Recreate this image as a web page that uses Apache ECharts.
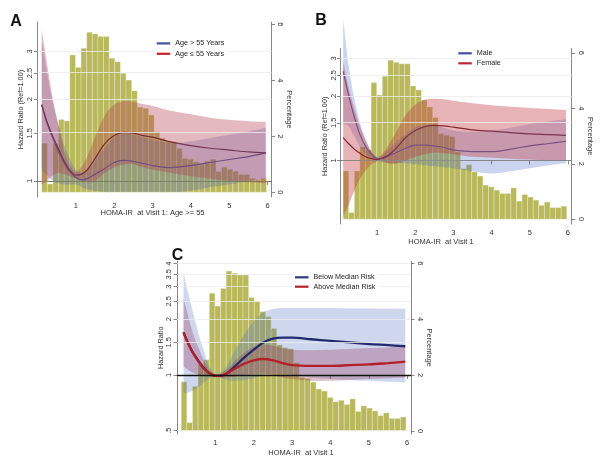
<!DOCTYPE html>
<html><head><meta charset="utf-8">
<script src="https://cdn.jsdelivr.net/npm/echarts@6/dist/echarts.min.js"></script>
<style>html,body{margin:0;padding:0;background:#fff}#c{width:600px;height:459px}</style>
</head><body><div id="c"></div>
<script>
// ---------------- data ----------------
const binStart = 0.11;
const binWidth = 0.1465;
const pctA = [1.75,0.3,1.75,2.6,2.55,4.9,4.46,5.14,5.71,5.65,5.56,5.56,4.79,4.66,4.25,4.01,3.62,3.04,3.0,2.76,2.16,1.93,1.83,1.8,1.57,1.21,1.18,1.09,1.0,1.12,1.18,0.74,0.9,0.82,0.75,0.64,0.64,0.5,0.45,0.5];
const pctB = [1.74,0.24,1.74,2.61,2.5,4.93,4.48,5.16,5.74,5.66,5.61,5.61,4.81,4.66,4.3,4.05,3.67,3.09,3.03,2.98,2.43,1.83,1.97,1.71,1.56,1.23,1.17,1.05,0.93,0.93,1.13,0.65,0.89,0.8,0.69,0.5,0.62,0.42,0.42,0.47];
const pctC = [1.76,0.3,1.6,2.4,2.55,4.93,4.47,5.1,5.72,5.64,5.58,5.58,4.78,4.63,4.27,4.09,3.67,3.08,2.98,2.94,2.45,1.92,1.88,1.75,1.5,1.43,1.2,1.05,1.1,0.95,1.15,0.7,0.9,0.82,0.72,0.55,0.65,0.45,0.45,0.5];

const xAB = [0.11,0.25,0.4,0.55,0.7,0.85,1.0,1.15,1.3,1.5,1.75,2.0,2.25,2.5,2.75,3.0,3.5,4.0,4.5,5.0,5.5,5.95];
const xC  = [0.17,0.25,0.4,0.55,0.7,0.85,1.0,1.1,1.3,1.5,1.75,2.0,2.25,2.5,2.75,3.0,3.5,4.0,4.5,5.0,5.5,5.95];

// Panel A
const hrA_old = [1.91,1.63,1.44,1.28,1.16,1.08,1.03,1.01,1.02,1.06,1.11,1.17,1.19,1.18,1.16,1.14,1.12,1.14,1.17,1.20,1.23,1.27];
const loA_old = [1.1,1.05,1.0,0.98,0.97,0.97,0.97,0.95,0.93,0.92,0.91,0.91,0.91,0.91,0.91,0.91,0.91,0.92,0.95,0.97,1.0,1.02];
const hiA_old = [3.3,2.5,1.95,1.6,1.35,1.2,1.1,1.07,1.1,1.2,1.32,1.45,1.5,1.48,1.45,1.42,1.38,1.40,1.44,1.48,1.52,1.57];
const hrA_young = [1.91,1.65,1.46,1.31,1.18,1.09,1.05,1.06,1.10,1.21,1.37,1.47,1.51,1.50,1.47,1.45,1.39,1.35,1.32,1.30,1.28,1.27];
const loA_young = [0.97,1.0,1.05,1.07,1.06,1.04,1.02,1.0,0.99,1.0,1.07,1.12,1.15,1.15,1.12,1.1,1.07,1.04,1.02,1.0,0.99,0.98];
const hiA_young = [3.6,2.7,2.0,1.6,1.28,1.14,1.08,1.13,1.23,1.45,1.74,1.91,1.97,1.96,1.92,1.89,1.81,1.76,1.71,1.68,1.66,1.65];

// Panel B
const hrB_male = [2.61,2.03,1.6,1.32,1.16,1.07,1.02,1.02,1.05,1.09,1.14,1.18,1.18,1.17,1.15,1.12,1.10,1.10,1.13,1.17,1.20,1.23];
const loB_male = [1.48,1.45,1.3,1.16,1.07,1.03,1.0,0.98,0.97,0.97,0.97,0.96,0.95,0.94,0.93,0.92,0.89,0.87,0.89,0.92,0.95,0.97];
const hiB_male = [4.6,2.8,1.95,1.5,1.24,1.1,1.04,1.06,1.13,1.22,1.33,1.43,1.46,1.45,1.42,1.38,1.36,1.38,1.42,1.48,1.52,1.56];
const hrB_female = [1.28,1.2,1.13,1.08,1.04,1.02,1.01,1.03,1.06,1.14,1.28,1.38,1.44,1.46,1.45,1.43,1.39,1.37,1.35,1.33,1.32,1.31];
const loB_female = [0.55,0.62,0.72,0.82,0.9,0.96,0.99,0.99,0.97,0.97,1.0,1.04,1.07,1.09,1.08,1.07,1.04,1.03,1.02,1.01,1.0,1.0];
const hiB_female = [2.9,2.2,1.75,1.45,1.25,1.1,1.03,1.08,1.18,1.36,1.63,1.82,1.92,1.94,1.93,1.9,1.85,1.81,1.78,1.76,1.74,1.72];

// Panel C
const hrC_below = [1.70,1.55,1.34,1.2,1.09,1.02,0.99,0.99,1.02,1.11,1.24,1.37,1.5,1.57,1.59,1.59,1.56,1.53,1.50,1.47,1.45,1.43];
const loC_below = [0.8,0.8,0.82,0.86,0.91,0.96,0.98,0.97,0.94,0.93,0.94,0.96,1.0,1.02,1.01,1.0,0.97,0.95,0.94,0.93,0.92,0.91];
const hiC_below = [3.6,3.0,2.25,1.7,1.35,1.1,1.01,1.02,1.12,1.35,1.65,1.95,2.18,2.27,2.3,2.3,2.3,2.3,2.29,2.29,2.28,2.28];
const hrC_above = [1.70,1.55,1.33,1.19,1.08,1.02,0.99,0.99,1.02,1.08,1.15,1.20,1.22,1.20,1.16,1.13,1.12,1.12,1.13,1.14,1.16,1.18];
const loC_above = [1.12,1.08,1.03,1.0,0.98,0.98,0.97,0.97,0.97,0.98,1.0,1.01,1.02,1.0,0.97,0.95,0.93,0.93,0.94,0.95,0.96,0.97];
const hiC_above = [2.6,2.25,1.72,1.42,1.2,1.06,1.01,1.01,1.07,1.18,1.32,1.42,1.46,1.44,1.40,1.37,1.36,1.37,1.38,1.40,1.41,1.43];

// tick labels
const xTicks = [1,2,3,4,5,6];
const pctTicks = [0,2,4,6];
const hrTicksA = [1,1.5,2,2.5,3];
const hrTicksB = [0.5,1,1.5,2,2.5,3];
const hrTicksC = [0.5,1,1.5,2,2.5,3,3.5,4];

// ---------------- chart ----------------
const FONT = '"Liberation Sans", Arial, Helvetica, sans-serif';
const AX = '#6a6a6a', TXT = '#333';
const OLIVE = '#b9b95c';
const BLUE_LEG = '#3f51a3', RED_LEG = '#c0262d';

function fmtHR(v){ let r = Math.round(Math.exp(v)*100)/100; let s = String(r); if (s.indexOf('0.')===0) s = s.slice(1); return s; }

// Catmull-Rom -> cubic bezier path segments through pixel points
function crSegs(pts){
  let d = '';
  for (let i = 0; i < pts.length - 1; i++){
    const p0 = pts[i-1] || pts[i], p1 = pts[i], p2 = pts[i+1], p3 = pts[i+2] || pts[i+1];
    const c1x = p1[0] + (p2[0]-p0[0])/6, c1y = p1[1] + (p2[1]-p0[1])/6;
    const c2x = p2[0] - (p3[0]-p1[0])/6, c2y = p2[1] - (p3[1]-p1[1])/6;
    d += ' C' + c1x.toFixed(2) + ',' + c1y.toFixed(2) + ' ' + c2x.toFixed(2) + ',' + c2y.toFixed(2) + ' ' + p2[0].toFixed(2) + ',' + p2[1].toFixed(2);
  }
  return d;
}

const panels = [
  { grid:{left:37.5, top:22, width:234, height:175}, xMin:0, hrMin:-0.136, hrMax:1.349, pMin:-0.168, pMax:6.08,
    hrTicks:hrTicksA, pct:pctA, x:xAB, refColor:'#707a62', refWidth:0.8, linesOnTop:false, nameGap:13, lblMargin:4,
    s:[{name:'Age > 55 Years', hr:hrA_old, lo:loA_old, hi:hiA_old, line:'#4e5290', band:'rgba(70,95,185,0.28)', leg:BLUE_LEG},
       {name:'Age \u2264 55 Years', hr:hrA_young, lo:loA_young, hi:hiA_young, line:'#55222f', band:'rgba(180,60,80,0.36)', leg:RED_LEG}],
    legend:{left:156.7, top:38.2, lh:10.4}, lineW:1.2 },
  { grid:{left:340.5, top:48.5, width:231.2, height:175.5}, xMin:0.04, hrMin:-0.683, hrMax:1.204, pMin:-0.173, pMax:6.16,
    hrTicks:hrTicksB, pct:pctB, x:xAB, refColor:'#8a8a8a', refWidth:0.8, linesOnTop:false, nameGap:11, lblMargin:3,
    s:[{name:'Male', hr:hrB_male, lo:loB_male, hi:hiB_male, line:'#5560a6', band:'rgba(70,100,195,0.28)', leg:BLUE_LEG},
       {name:'Female', hr:hrB_female, lo:loB_female, hi:hiB_female, line:'#5e1e2c', band:'rgba(195,55,65,0.38)', leg:RED_LEG}],
    legend:{left:458.3, top:48.3, lh:10}, lineW:1.2 },
  { grid:{left:177, top:261.5, width:234, height:172.5}, xMin:0, hrMin:-0.734, hrMax:1.412, pMin:-0.107, pMax:6.064,
    hrTicks:hrTicksC, pct:pctC, x:xC, refColor:'#111', refWidth:1.4, linesOnTop:true, nameGap:13, lblMargin:4,
    s:[{name:'Below Median Risk', hr:hrC_below, lo:loC_below, hi:hiC_below, line:'#222c6c', band:'rgba(80,110,195,0.28)', leg:'#2a3a80'},
       {name:'Above Median Risk', hr:hrC_above, lo:loC_above, hi:hiC_above, line:'#b4202a', band:'rgba(150,50,90,0.30)', leg:'#b4202a'}],
    legend:{left:295, top:272.6, lh:9.4}, lineW:2.3 }
];

const grids = [], xAxes = [], yAxes = [], series = [], legends = [];

panels.forEach((P, p) => {
  grids.push(Object.assign({outerBoundsMode:'none', containLabel:false}, P.grid));
  xAxes.push({
    type:'value', gridIndex:p, min:P.xMin, max:6.1,
    axisLine:{show:true, lineStyle:{color:AX, width:0.8}},
    axisTick:{show:true, customValues:xTicks, length:4, lineStyle:{color:AX, width:0.8}},
    axisLabel:{customValues:xTicks, margin:5, fontSize:7.5, color:TXT, fontFamily:FONT},
    splitLine:{show:false}
  });
  const hrTickVals = P.hrTicks.map(v => Math.log(v));
  yAxes.push({
    type:'value', gridIndex:p, position:'left', min:P.hrMin, max:P.hrMax,
    name: p === 2 ? 'Hazard Ratio' : 'Hazard Ratio (Ref=1.00)',
    nameLocation:'middle', nameGap:P.nameGap, nameTextStyle:{fontSize:7.3, color:TXT, fontFamily:FONT},
    axisLine:{show:true, onZero:false, lineStyle:{color:AX, width:0.8}},
    axisTick:{show:true, customValues:hrTickVals, length:3.5, lineStyle:{color:AX, width:0.8}},
    axisLabel:{customValues:hrTickVals, formatter:fmtHR, rotate:90, margin:P.lblMargin, fontSize:7.5, color:TXT, fontFamily:FONT},
    splitLine:{show:false}
  });
  yAxes.push({
    type:'value', gridIndex:p, position:'right', min:P.pMin, max:P.pMax,
    name:'Percentage', nameLocation:'middle', nameRotate:-90, nameGap:13,
    nameTextStyle:{fontSize:7.5, color:TXT, fontFamily:FONT},
    axisLine:{show:true, onZero:false, lineStyle:{color:AX, width:0.8}},
    axisTick:{show:true, customValues:pctTicks, length:3.5, lineStyle:{color:AX, width:0.8}},
    axisLabel:{customValues:pctTicks, rotate:-90, margin:5, fontSize:7.5, color:TXT, fontFamily:FONT},
    splitLine:{show:false}
  });
  const yHR = 2*p, yP = 2*p+1;

  // light gridlines at HR ticks
  series.push({
    type:'line', name:'grid'+p, xAxisIndex:p, yAxisIndex:yHR, data:[[P.x[0], 0]], symbol:'none',
    lineStyle:{opacity:0}, z:0, silent:true,
    markLine:{silent:true, symbol:'none', label:{show:false},
      lineStyle:{color:'#ececec', width:0.8, type:'solid'},
      data: hrTickVals.filter(v => Math.abs(v) > 1e-9).map(v => ({yAxis:v}))}
  });

  // histogram
  const histData = P.pct.map((v,i) => [binStart + i*binWidth, binStart + (i+1)*binWidth, v]);
  series.push({
    type:'custom', name:'hist'+p, xAxisIndex:p, yAxisIndex:yP, z:1, silent:true,
    encode:{x:[0,1], y:2},
    data: histData,
    renderItem: function(params, api){
      const a = api.coord([api.value(0), api.value(2)]);
      const b = api.coord([api.value(1), 0]);
      return {type:'rect', shape:{x:a[0], y:a[1], width:b[0]-a[0], height:b[1]-a[1]},
        style:{fill:OLIVE, stroke:'rgba(255,255,255,0.55)', lineWidth:0.5}};
    }
  });

  const zBand = P.linesOnTop ? 2 : 3;
  const zLine = P.linesOnTop ? 3 : 2;

  // reference line HR = 1
  series.push({
    type:'line', name:'ref'+p, xAxisIndex:p, yAxisIndex:yHR, data:[[P.x[0], 0]], symbol:'none',
    lineStyle:{opacity:0}, z: P.linesOnTop ? 4 : 2, silent:true,
    markLine:{silent:true, symbol:'none', label:{show:false},
      lineStyle:{color:P.refColor, width:P.refWidth, type:'solid'}, data:[{yAxis:0}]}
  });

  // confidence bands (custom polygons through the axis scales)
  P.s.forEach((S, k) => {
    const bandColor = S.band;
    series.push({
      type:'custom', name:'band'+p+'_'+k, xAxisIndex:p, yAxisIndex:yHR, z:zBand, silent:true, clip:false,
      encode:{x:0, y:[1,2]},
      data: P.x.map((x,i) => [x, Math.log(S.lo[i]), Math.log(S.hi[i])]),
      renderItem: function(params, api){
        if (params.dataIndexInside !== 0) return null;
        const n = params.dataInsideLength;
        const up = [], dn = [];
        for (let i = 0; i < n; i++){
          up.push(api.coord([api.value(0, i), api.value(2, i)]));
          dn.push(api.coord([api.value(0, i), api.value(1, i)]));
        }
        dn.reverse();
        const d = 'M' + up[0][0].toFixed(2) + ',' + up[0][1].toFixed(2) + crSegs(up) +
                  ' L' + dn[0][0].toFixed(2) + ',' + dn[0][1].toFixed(2) + crSegs(dn) + ' Z';
        return {type:'path', shape:{pathData:d}, style:{fill:bandColor, stroke:null}};
      }
    });
  });
  P.s.forEach((S, k) => {
    series.push({
      type:'line', name:S.name, xAxisIndex:p, yAxisIndex:yHR,
      data: P.x.map((x,i) => [x, Math.log(S.hr[i])]), smooth:0.35, symbol:'none',
      color:S.leg,
      lineStyle:{color:S.line, width:P.lineW}, z:zLine, silent:true
    });
  });
  legends.push({
    left:P.legend.left - 2, top:P.legend.top - 1, orient:'vertical', icon:'rect', itemWidth:13.5, itemHeight:2.2, itemGap:0,
    padding:[1,3,1,2], backgroundColor:'#ffffff', selectedMode:false, z:10,
    textStyle:{fontSize:7.2, lineHeight:P.legend.lh, color:'#222', fontFamily:FONT},
    data: P.s.map(S => ({name:S.name, itemStyle:{color:S.leg}}))
  });
});

const chart = echarts.init(document.getElementById('c'), null, {renderer:'canvas'});
chart.setOption({
  animation:false,
  backgroundColor:'#fff',
  grid:grids, xAxis:xAxes, yAxis:yAxes, series:series, legend:legends,
  graphic:[
    {type:'text', x:16, y:21.5, style:{text:'A', font:'bold 16px '+FONT, fill:'#111', align:'center', verticalAlign:'middle'}},
    {type:'text', x:321, y:21, style:{text:'B', font:'bold 16px '+FONT, fill:'#111', align:'center', verticalAlign:'middle'}},
    {type:'text', x:177.5, y:256, style:{text:'C', font:'bold 16px '+FONT, fill:'#111', align:'center', verticalAlign:'middle'}},
    {type:'text', x:152.5, y:213.3, style:{text:'HOMA-IR  at Visit 1: Age >= 55', font:'7.5px '+FONT, fill:TXT, align:'center', verticalAlign:'middle'}},
    {type:'text', x:441, y:241.7, style:{text:'HOMA-IR  at Visit 1', font:'7.5px '+FONT, fill:TXT, align:'center', verticalAlign:'middle'}},
    {type:'text', x:301, y:453.3, style:{text:'HOMA-IR  at Visit 1', font:'7.5px '+FONT, fill:TXT, align:'center', verticalAlign:'middle'}}
  ]
});
</script>
</body></html>
